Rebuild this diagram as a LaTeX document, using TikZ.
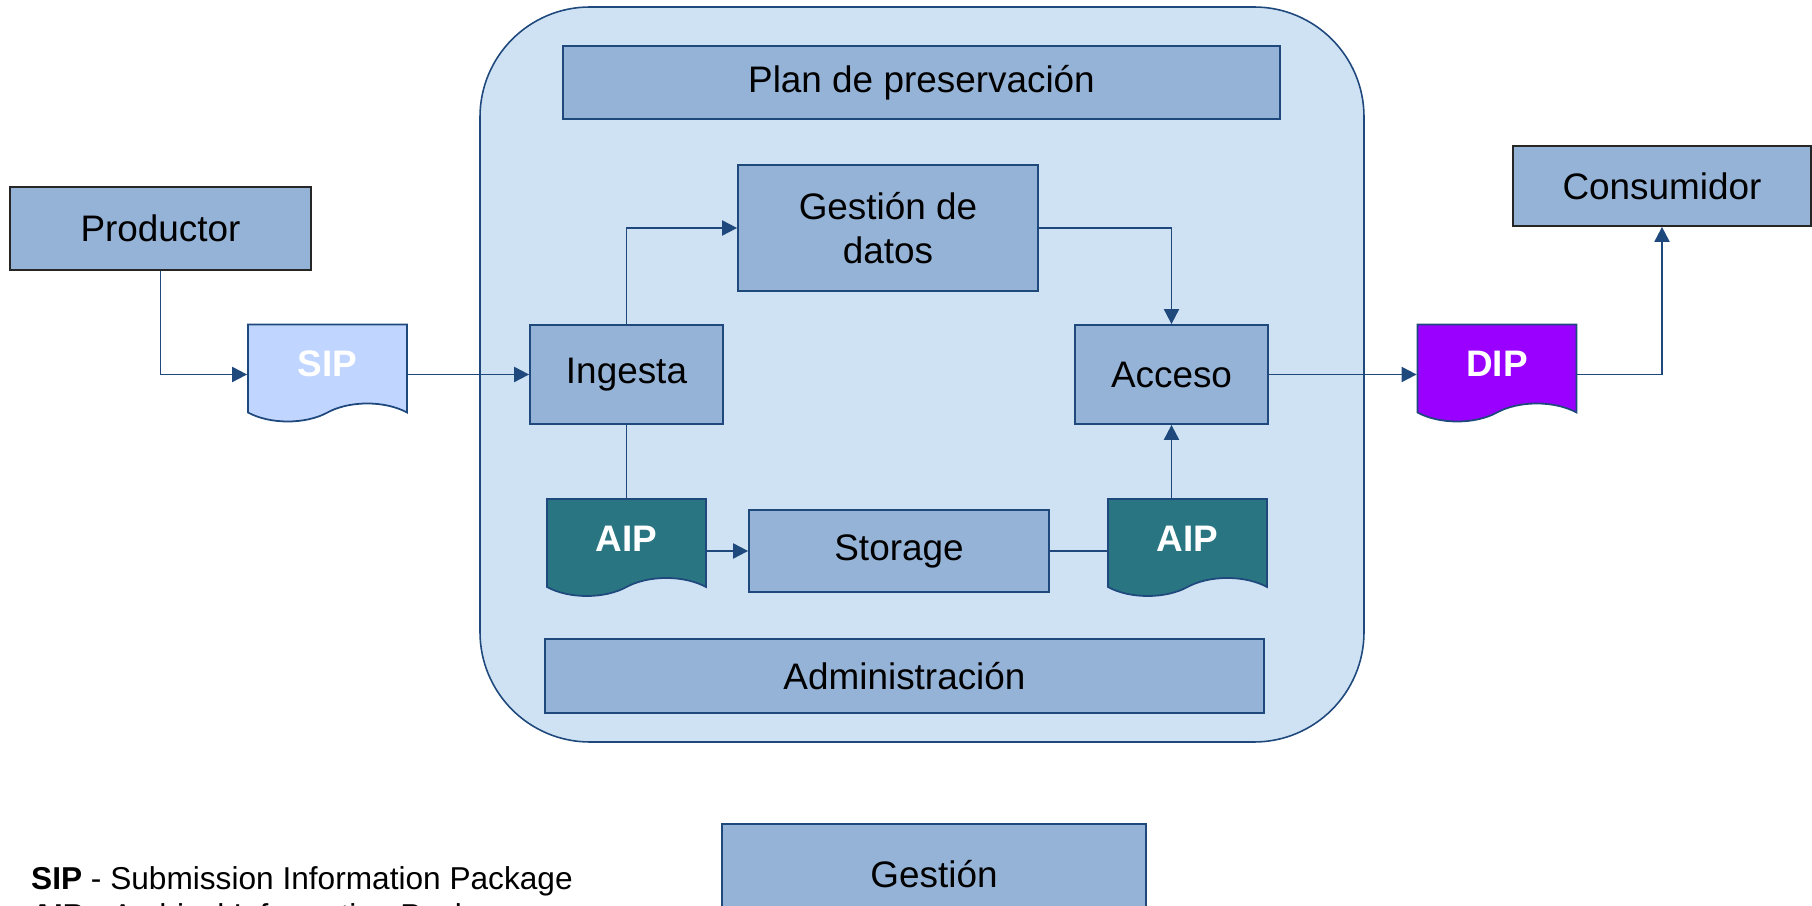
\documentclass[tikz,border=0pt]{standalone}
\usepackage{fontspec}
\setmainfont{Liberation Sans}
\usepackage{xcolor}
\usetikzlibrary{arrows.meta,shapes.symbols}

\definecolor{linedark}{RGB}{31,73,125}
\definecolor{boxfill}{RGB}{149,179,215}
\definecolor{oaisfill}{RGB}{207,226,243}
\definecolor{sipfill}{RGB}{192,213,255}
\definecolor{aipfill}{RGB}{41,118,130}
\definecolor{dipfill}{RGB}{153,0,255}

\begin{document}
\begin{tikzpicture}[
    box/.style={draw=linedark,fill=boxfill,line width=1pt,inner sep=0pt,align=center,
        font=\fontsize{21}{25}\selectfont},
    outerbox/.style={box,draw=black!85},
    package/.style={tape,tape bend top=none,tape bend bottom=in and out,tape bend height=0.36cm,
        draw=linedark,line width=1pt,inner sep=0pt,minimum width=3.18cm,minimum height=1.94cm,
        text=white,font=\fontsize{21}{25}\selectfont\bfseries},
    flow/.style={draw=linedark,line width=1.1pt,-{Triangle[length=0.3cm,width=0.3cm]}},
    link/.style={draw=linedark,line width=1.1pt}
]
% Frame
\useasboundingbox (0,0) rectangle (36.24,18.12);

% Archive
\node[draw=linedark,fill=oaisfill,line width=0.9pt,rounded corners=2.2cm,
    minimum width=17.68cm,minimum height=14.7cm] (OAIS) at (18.44,10.63) {};

% Functions
\node[box,minimum width=14.34cm,minimum height=1.46cm] (Plan) at (18.43,16.47) {Plan de preservación};
\node[box,minimum width=6.0cm,minimum height=2.52cm] (Datos) at (17.76,13.56) {Gestión de\\datos};
\node[box,minimum width=3.86cm,minimum height=1.98cm] (Ingesta) at (12.53,10.63) {Ingesta};
\node[box,minimum width=3.86cm,minimum height=1.98cm] (Acceso) at (23.43,10.63) {Acceso};
\node[box,minimum width=6.0cm,minimum height=1.64cm] (Storage) at (17.98,7.1) {Storage};
\node[box,minimum width=14.38cm,minimum height=1.48cm] (Admin) at (18.09,4.6) {Administración};
\node[box,minimum width=8.48cm,minimum height=2.0cm] (Gestion) at (18.68,0.64) {Gestión};

% Outside entities
\node[outerbox,minimum width=6.02cm,minimum height=1.66cm] (Productor) at (3.21,13.55) {Productor};
\node[outerbox,minimum width=5.96cm,minimum height=1.6cm] (Consumidor) at (33.24,14.4) {Consumidor};

% Packages
\node[package,fill=sipfill] (SIP) at (6.55,10.84) {SIP};
\node[package,fill=aipfill] (AIPin) at (12.53,7.35) {AIP};
\node[package,fill=aipfill] (AIPout) at (23.75,7.35) {AIP};
\node[package,fill=dipfill] (DIP) at (29.94,10.84) {DIP};

% Flows
\draw[flow] (Productor.south) |- (SIP.west |- Ingesta.west);
\draw[flow] (SIP.east |- Ingesta.west) -- (Ingesta.west);
\draw[flow] (Ingesta.north) |- (Datos.west);
\draw[flow] (Datos.east) -| (Acceso.north);
\draw[link] (Ingesta.south) -- (AIPin.north);
\draw[flow] (AIPin.east |- Storage.west) -- (Storage.west);
\draw[link] (Storage.east) -- (AIPout.west |- Storage.east);
\draw[flow] (AIPout.north -| Acceso.south) -- (Acceso.south);
\draw[flow] (Acceso.east) -- (DIP.west |- Acceso.east);
\draw[flow] (DIP.east |- Acceso.east) -| (Consumidor.south);

% Legend
\node[anchor=base west,font=\fontsize{18}{21}\selectfont] (legSIP) at (0.5,0.32)
    {\textbf{SIP} - Submission Information Package};
\node[anchor=base west,font=\fontsize{18}{21}\selectfont] (legAIP) at (0.5,-0.4)
    {\textbf{AIP} - Archival Information Package};
\end{tikzpicture}
\end{document}
